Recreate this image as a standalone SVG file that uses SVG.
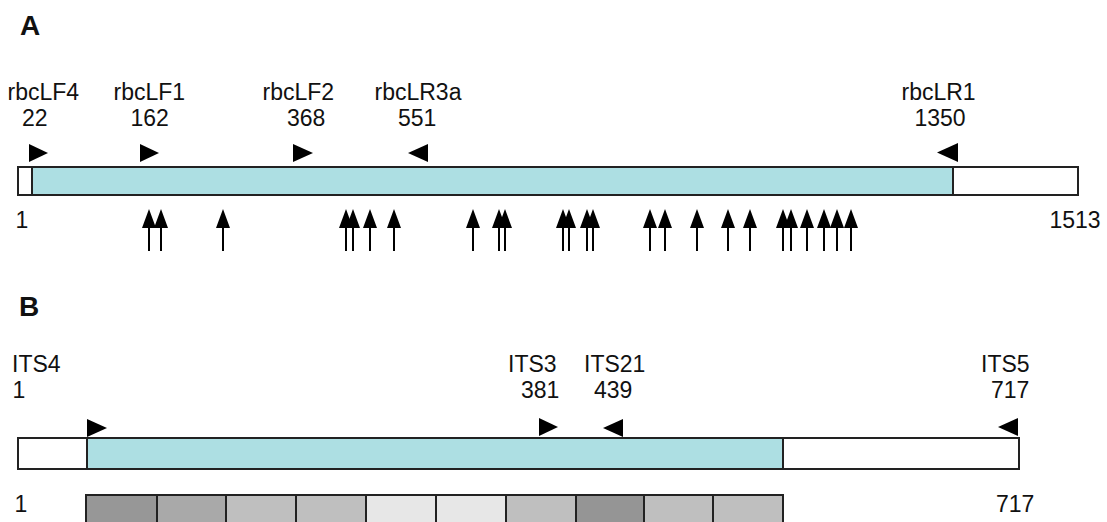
<svg xmlns="http://www.w3.org/2000/svg" xmlns:xlink="http://www.w3.org/1999/xlink" width="1107" height="522" viewBox="0 0 1107 522">
  <style>
    text { font-family: "Liberation Sans", Arial, sans-serif; fill: #111; }
    .lbl { font-size: 23px; }
    .panel { font-size: 28px; font-weight: bold; }
    .bar { stroke: #222; stroke-width: 2; }
    .white { fill: #fff; }
    .cyan { fill: #addfe3; }
    .tri { fill: #000; }
    .seg { stroke: #222; stroke-width: 2; }
  </style>
  <defs>
    <!-- upward site arrow, tip at origin -->
    <path id="site" d="M0,0 L7,19 L1,19 L1,42 L-1,42 L-1,19 L-7,19 Z" fill="#000"/>
  </defs>

  <!-- Panel A: rbcL -->
  <g id="panel-a-title"><text class="panel" x="20" y="35">A</text></g>

  <g id="bar-a">
    <rect class="bar white" x="18" y="167" width="1060" height="28"/>
    <rect class="bar cyan" x="32" y="167" width="921" height="28"/>
    <text class="lbl" x="15.5" y="228">1</text>
    <text class="lbl" x="1049.5" y="228">1513</text>
  </g>

  <g id="primer-rbcLF4">
    <text class="lbl" x="7.5" y="100">rbcLF4</text>
    <text class="lbl" x="22" y="126">22</text>
    <polygon class="tri" points="29,144 29,162 48,153"/>
  </g>
  <g id="primer-rbcLF1">
    <text class="lbl" x="113.5" y="100">rbcLF1</text>
    <text class="lbl" x="130.5" y="126">162</text>
    <polygon class="tri" points="140,144 140,162 159,153"/>
  </g>
  <g id="primer-rbcLF2">
    <text class="lbl" x="262.5" y="100">rbcLF2</text>
    <text class="lbl" x="287" y="126">368</text>
    <polygon class="tri" points="293,144 293,162 313,153"/>
  </g>
  <g id="primer-rbcLR3a">
    <text class="lbl" x="374.5" y="100">rbcLR3a</text>
    <text class="lbl" x="398" y="126">551</text>
    <polygon class="tri" points="428,144 428,162 408,153"/>
  </g>
  <g id="primer-rbcLR1">
    <text class="lbl" x="901.5" y="100">rbcLR1</text>
    <text class="lbl" x="914.5" y="126">1350</text>
    <polygon class="tri" points="958,143 958,162 937,152.5"/>
  </g>

  <!-- variable sites along rbcL -->
  <g id="sites-a">
    <use xlink:href="#site" x="149" y="209"/>
    <use xlink:href="#site" x="161" y="209"/>
    <use xlink:href="#site" x="223" y="209"/>
    <use xlink:href="#site" x="346" y="209"/>
    <use xlink:href="#site" x="353" y="209"/>
    <use xlink:href="#site" x="370" y="209"/>
    <use xlink:href="#site" x="394" y="209"/>
    <use xlink:href="#site" x="473" y="209"/>
    <use xlink:href="#site" x="499" y="209"/>
    <use xlink:href="#site" x="505" y="209"/>
    <use xlink:href="#site" x="563" y="209"/>
    <use xlink:href="#site" x="569" y="209"/>
    <use xlink:href="#site" x="587" y="209"/>
    <use xlink:href="#site" x="593" y="209"/>
    <use xlink:href="#site" x="650" y="209"/>
    <use xlink:href="#site" x="665" y="209"/>
    <use xlink:href="#site" x="697" y="209"/>
    <use xlink:href="#site" x="728" y="209"/>
    <use xlink:href="#site" x="750" y="209"/>
    <use xlink:href="#site" x="783" y="209"/>
    <use xlink:href="#site" x="791" y="209"/>
    <use xlink:href="#site" x="807" y="209"/>
    <use xlink:href="#site" x="824" y="209"/>
    <use xlink:href="#site" x="837" y="209"/>
    <use xlink:href="#site" x="851" y="209"/>
  </g>

  <!-- Panel B: ITS -->
  <g id="panel-b-title"><text class="panel" x="19" y="316">B</text></g>

  <g id="bar-b">
    <rect class="bar white" x="18" y="438" width="1001" height="31"/>
    <rect class="bar cyan" x="87" y="438" width="696" height="31"/>
    <text class="lbl" x="14.5" y="512">1</text>
    <text class="lbl" x="996" y="512">717</text>
  </g>

  <g id="primer-ITS4">
    <text class="lbl" x="12" y="372">ITS4</text>
    <text class="lbl" x="12.5" y="398">1</text>
    <polygon class="tri" points="87,419 87,437 107,428"/>
  </g>
  <g id="primer-ITS3">
    <text class="lbl" x="508" y="372">ITS3</text>
    <text class="lbl" x="521" y="398">381</text>
    <polygon class="tri" points="539,418 539,436 558,427"/>
  </g>
  <g id="primer-ITS21">
    <text class="lbl" x="584" y="372">ITS21</text>
    <text class="lbl" x="594" y="398">439</text>
    <polygon class="tri" points="623,419 623,437 603,428"/>
  </g>
  <g id="primer-ITS5">
    <text class="lbl" x="981" y="372">ITS5</text>
    <text class="lbl" x="991" y="398">717</text>
    <polygon class="tri" points="1018,418 1018,436 998,427"/>
  </g>

  <!-- shaded window segments -->
  <g id="windows-b">
    <rect class="seg" x="86" y="495" width="71" height="40" fill="#979797"/>
    <rect class="seg" x="157" y="495" width="69" height="40" fill="#a9a9a9"/>
    <rect class="seg" x="226" y="495" width="70" height="40" fill="#bfbfbf"/>
    <rect class="seg" x="296" y="495" width="70" height="40" fill="#bfbfbf"/>
    <rect class="seg" x="366" y="495" width="70" height="40" fill="#e7e7e7"/>
    <rect class="seg" x="436" y="495" width="70" height="40" fill="#e7e7e7"/>
    <rect class="seg" x="506" y="495" width="70" height="40" fill="#bfbfbf"/>
    <rect class="seg" x="576" y="495" width="68" height="40" fill="#959595"/>
    <rect class="seg" x="644" y="495" width="69" height="40" fill="#bfbfbf"/>
    <rect class="seg" x="713" y="495" width="70" height="40" fill="#bfbfbf"/>
  </g>
</svg>
